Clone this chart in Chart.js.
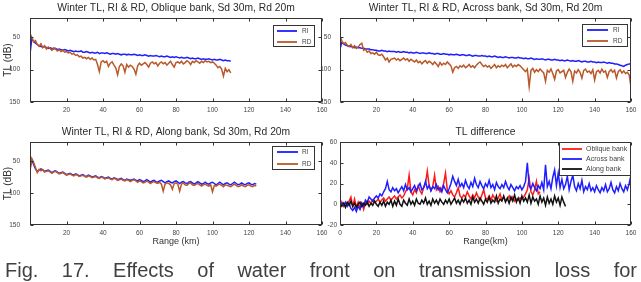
<!DOCTYPE html>
<html>
<head>
<meta charset="utf-8">
<script src="https://cdn.jsdelivr.net/npm/chart.js@4.4.1/dist/chart.umd.min.js"></script>
<style>
  html, body { margin: 0; padding: 0; background: #fff; width: 641px; height: 282px; overflow: hidden; }
  body { position: relative; font-family: 'Liberation Sans', Arial, sans-serif; }
  canvas { position: absolute; filter: blur(0.35px); }
  #caption {
    position: absolute; left: 5px; top: 258px; width: 632px;
    font-size: 20px; line-height: 24px; color: #404040;
    text-align: justify; text-align-last: justify; filter: blur(0.3px);
  }
</style>
</head>
<body>
<canvas id="oblique" width="332" height="120" style="left:0;top:0"></canvas>
<canvas id="across" width="323" height="120" style="left:318px;top:0"></canvas>
<canvas id="along" width="332" height="130" style="left:0;top:120px"></canvas>
<canvas id="diff" width="323" height="130" style="left:318px;top:120px"></canvas>
<div id="caption">Fig. 17. Effects of water front on transmission loss for</div>

<script>
const FONT = "'Liberation Sans', Arial, sans-serif";
const STEP_KM = 1;   // samples are read every 1 km starting at 0 km

// tick labels
const rangeTicks = [20, 40, 60, 80, 100, 120, 140, 160];
const diffRangeTicks = [0, 20, 40, 60, 80, 100, 120, 140, 160];
const tlTicks = [50, 100, 150];
const diffTicks = [-20, 0, 20, 40, 60];

// Oblique bank, TL (dB), 0..110 km
const obliqueRI = [
  76,52,56,59,61,63,64,65,64,66, 67,66,67,68,67,69,68,69,70,69,
  70,71,70,71,72,71,72,72,71,73, 73,72,73,74,73,74,74,73,75,74,
  74,75,74,75,76,75,75,76,75,76, 77,76,76,77,76,77,77,76,77,78,
  77,78,78,77,78,79,78,79,79,78, 79,80,79,80,80,79,80,81,80,81,
  80,81,82,81,82,82,81,82,83,82, 83,83,82,83,84,83,84,84,83,84,
  85,84,85,85,84,85,86,85,86,86,87
];
const obliqueRD = [
  44,50,57,55,61,64,60,66,63,68, 65,67,70,66,68,71,69,72,70,73,
  72,74,73,76,75,78,77,80,79,82, 81,83,81,84,82,85,84,92,103,88,
  86,89,87,95,90,88,93,97,108,95, 91,94,104,92,96,93,95,99,107,94,
  90,93,91,89,92,96,90,88,91,89, 94,90,88,91,89,93,90,87,92,96,
  89,88,90,87,91,89,86,88,92,87, 89,86,88,90,87,89,86,88,87,89,
  88,90,93,97,95,99,110,98,103,100,105
];

// Across bank, TL (dB), 0..160 km
const acrossRI = [
  68,58,60,62,63,64,64,65,66,65, 66,66,67,67,68,68,68,69,69,70,
  70,71,71,70,71,71,72,71,72,72, 72,73,72,73,73,72,73,73,74,73,
  74,74,73,74,75,74,74,75,75,74, 75,75,76,75,75,76,76,75,76,76,
  77,76,77,77,76,77,78,77,77,78, 78,77,78,79,78,78,79,79,78,79,
  79,80,79,80,80,79,80,81,80,81, 81,80,81,82,81,81,82,82,81,82,
  82,83,82,83,83,82,83,84,83,84, 84,83,84,85,84,84,85,85,84,85,
  85,86,85,86,86,85,86,87,86,87, 87,86,87,88,87,87,88,88,87,88,
  88,89,88,89,89,88,89,90,89,90, 90,91,91,92,93,94,95,93,92,91,91
];
const acrossRD = [
  48,55,60,58,62,64,61,66,63,67, 65,61,59,70,68,73,71,75,74,76,
  73,77,78,76,80,85,82,88,84,83, 82,85,83,86,84,82,85,83,87,84,
  86,88,85,89,87,91,88,86,90,87, 89,92,88,91,95,89,93,90,92,88,
  91,94,104,97,95,98,94,96,93,97, 95,92,96,94,97,93,90,88,92,95,
  93,96,94,98,95,92,97,94,96,93, 95,92,97,94,91,96,93,95,92,94,
  97,100,103,99,126,101,98,104,100,103, 99,102,105,118,101,104,99,106,115,102,
  100,105,103,101,112,104,99,103,118,102, 105,100,104,113,101,99,104,102,106,100,
  116,103,101,105,99,104,102,112,103,100, 104,101,113,103,100,105,102,106,104,108,127
];

// Along bank, TL (dB), 0..124 km
const alongRI = [
  61,48,55,62,66,64,62,64,66,65, 64,66,68,66,65,67,69,68,67,69,
  71,70,69,71,72,70,71,73,72,71, 73,74,72,73,75,74,73,75,76,74,
  75,77,76,75,77,78,76,77,79,78, 77,79,80,78,79,80,79,78,80,81,
  79,80,82,81,79,81,83,81,80,82, 83,81,80,82,84,82,81,83,84,82,
  81,83,85,83,82,84,85,83,82,84, 86,84,82,84,86,85,83,85,86,84,
  83,85,87,85,83,85,87,85,84,86, 87,85,83,85,87,86,84,86,87,85,
  84,86,87,85,86
];
const alongRD = [
  66,46,52,60,68,63,65,63,67,66, 65,67,69,67,66,68,70,69,68,70,
  72,71,70,72,73,71,72,74,73,72, 74,75,73,74,76,75,74,76,77,75,
  76,78,77,76,78,79,77,78,80,79, 78,80,81,79,80,82,80,79,81,83,
  81,82,84,83,81,83,85,83,82,84, 85,83,86,97,86,84,85,87,94,85,
  84,86,97,86,84,87,88,85,84,87, 88,86,85,87,89,87,86,88,89,87,
  98,88,89,87,86,88,90,87,88,89, 90,88,86,88,90,89,87,89,90,88,
  87,89,90,88,89
];

// TL difference (dB)
const diffOblique = [
  -5,2,-2,1,0,3,7,-2,5,-3, 2,-4,1,-5,2,0,3,1,4,2,
  3,5,2,4,6,3,5,7,4,6, 8,5,7,9,6,8,12,15,28,12,
  9,14,11,18,13,10,16,20,32,18, 13,17,28,14,17,12,15,20,30,14,
  10,13,9,7,11,16,8,6,9,7, 12,8,5,9,6,11,7,4,9,14,
  6,5,8,4,9,6,3,6,10,4, 7,3,5,8,4,7,3,5,4,6,
  5,7,10,14,25,12,9,14,22,10,12
];
const diffAcross = [
  0,1,-1,2,-2,1,-4,-6,-3,-7, -2,-5,1,-2,4,2,7,5,3,6,
  8,6,10,8,12,15,22,14,12,16, 13,15,11,14,17,13,19,14,16,12,
  15,18,13,17,20,14,16,22,15,18, 13,17,15,19,14,16,12,18,14,11,
  15,20,27,22,18,24,17,20,16,23, 18,15,21,17,25,19,16,22,18,15,
  20,17,23,16,19,14,21,17,15,19, 16,22,17,14,19,16,13,17,15,18,
  14,17,22,40,18,15,20,16,13,18, 15,21,14,38,17,22,15,26,33,18,
  30,16,24,15,19,27,14,22,28,17, 13,20,15,23,12,17,14,20,13,16,
  12,18,14,11,16,13,19,12,15,21, 14,11,17,13,20,15,12,18,14,20,28
];
const diffAlong = [
  0,-2,1,-3,2,-1,3,-2,1,-3, 0,2,-2,1,-1,2,-2,1,-1,3,
  0,-2,2,-1,3,-2,2,0,4,-2, 3,-1,5,0,-2,4,1,-1,5,0,
  3,-1,5,1,0,4,1,6,0,3, -1,5,1,4,0,5,2,0,4,1,
  5,0,3,6,1,4,0,5,2,6, 1,4,0,7,2,5,1,6,3,0,
  5,2,7,1,4,2,8,1,5,3, 8,2,6,1,7,3,9,2,6,1,
  8,3,6,2,9,1,7,3,5,0, 8,2,6,-1,7,1,5,0,8,2,
  6,-1,7,2,-2
];

const BLUE = 'rgb(30,30,255)';
const BROWN = 'rgb(185,88,40)';
const RED = 'rgb(255,25,25)';
const BLACK = '#111';

const toPoints = vals => vals.map((v, i) => ({ x: i * STEP_KM, y: v }));

// MATLAB-like box with inward ticks on all four sides
const innerTicks = {
  id: 'innerTicks',
  afterDatasetsDraw(chart) {
    const { ctx, chartArea: a, scales: { x, y } } = chart;
    const L = Math.round(a.left) + 0.5, R = Math.round(a.right) - 0.5;
    const T = Math.round(a.top) + 0.5, B = Math.round(a.bottom) - 0.5;
    ctx.save();
    ctx.strokeStyle = '#333';
    ctx.lineWidth = 1;
    ctx.beginPath();
    x.ticks.forEach(t => {
      const px = Math.round(x.getPixelForValue(t.value)) + 0.5;
      ctx.moveTo(px, T); ctx.lineTo(px, T + 3);
      ctx.moveTo(px, B); ctx.lineTo(px, B - 3);
    });
    y.ticks.forEach(t => {
      const py = Math.round(y.getPixelForValue(t.value)) + 0.5;
      ctx.moveTo(L, py); ctx.lineTo(L + 3, py);
      ctx.moveTo(R, py); ctx.lineTo(R - 3, py);
    });
    ctx.stroke();
    ctx.strokeRect(L, T, R - L, B - T);
    ctx.restore();
  }
};

// legend box drawn inside the plot, top right
const boxLegend = {
  id: 'boxLegend',
  afterDraw(chart, args, o) {
    const { ctx, chartArea: a } = chart;
    const x = Math.round(a.right - o.right - o.width), y = Math.round(a.top + o.top);
    ctx.save();
    ctx.fillStyle = '#fff';
    ctx.fillRect(x, y, o.width, o.height);
    ctx.strokeStyle = '#333';
    ctx.lineWidth = 1;
    ctx.strokeRect(x + 0.5, y + 0.5, o.width - 1, o.height - 1);
    ctx.font = o.fontSize + 'px ' + FONT;
    ctx.textBaseline = 'middle';
    chart.data.datasets.forEach((ds, i) => {
      const ly = y + o.padTop + i * o.rowH;
      ctx.strokeStyle = ds.borderColor;
      ctx.lineWidth = 1.8;
      ctx.beginPath();
      ctx.moveTo(x + o.lineX, ly);
      ctx.lineTo(x + o.lineX + o.lineLen, ly);
      ctx.stroke();
      ctx.fillStyle = '#444';
      ctx.fillText(ds.label, x + o.lineX + o.lineLen + o.gap, ly);
    });
    ctx.restore();
  }
};

function panel(id, o) {
  return new Chart(document.getElementById(id), {
    type: 'line',
    data: { datasets: o.datasets },
    options: {
      responsive: false,
      animation: false,
      devicePixelRatio: 1,
      layout: { padding: { left: 0, right: 10, top: 0, bottom: 0 } },
      elements: { point: { radius: 0 }, line: { borderWidth: 1.5, tension: 0 } },
      plugins: {
        legend: { display: false },
        tooltip: { enabled: false },
        title: {
          display: true, text: o.title, color: '#2a2a2a', fullSize: false,
          font: { family: FONT, size: 10.3, weight: 'normal', lineHeight: '12px' },
          padding: { top: o.titleTop, bottom: 4 }
        },
        boxLegend: o.legend
      },
      scales: {
        x: {
          type: 'linear', min: 0, max: 160,
          grid: { display: false, drawTicks: false },
          border: { display: false },
          ticks: { color: '#444', font: { family: FONT, size: 6.5 }, padding: 4, maxRotation: 0, autoSkip: false },
          afterBuildTicks: s => { s.ticks = o.xTicks.map(v => ({ value: v })); },
          afterFit: s => { s.height = o.xHeight; },
          title: {
            display: !!o.xTitle, text: o.xTitle || '', color: '#333',
            font: { family: FONT, size: 9, lineHeight: '11px' },
            padding: { top: 0, bottom: 3 }
          }
        },
        y: {
          type: 'linear', min: o.yMin, max: o.yMax, reverse: o.reverse,
          grid: { display: false, drawTicks: false },
          border: { display: false },
          ticks: { color: '#444', font: { family: FONT, size: 6.5 }, padding: o.yPad, autoSkip: false },
          afterBuildTicks: s => { s.ticks = o.yTicks.map(v => ({ value: v })); },
          afterFit: s => { s.width = o.yWidth; },
          title: {
            display: !!o.yTitle, text: o.yTitle || '', color: '#333',
            font: { family: FONT, size: 10, lineHeight: '11px' },
            padding: { top: 3, bottom: 0 }
          }
        }
      }
    },
    plugins: [innerTicks, boxLegend]
  });
}

const tlSeries = (ri, rd) => [
  { label: 'RI', data: toPoints(ri), borderColor: BLUE, order: 1 },
  { label: 'RD', data: toPoints(rd), borderColor: BROWN, order: 0 }
];

panel('oblique', {
  title: 'Winter TL, RI & RD, Oblique bank, Sd 30m, Rd 20m', titleTop: 2,
  datasets: tlSeries(obliqueRI, obliqueRD),
  xTicks: rangeTicks, xHeight: 18,
  yMin: 20, yMax: 150, reverse: true, yTicks: tlTicks, yWidth: 30, yPad: 10, yTitle: 'TL (dB)',
  legend: { right: 7, top: 7, width: 42, height: 22, padTop: 6, rowH: 11, lineX: 4, lineLen: 20, gap: 5, fontSize: 6.5 }
});

panel('across', {
  title: 'Winter TL, RI & RD, Across bank, Sd 30m, Rd 20m', titleTop: 2,
  datasets: tlSeries(acrossRI, acrossRD),
  xTicks: rangeTicks, xHeight: 18,
  yMin: 20, yMax: 150, reverse: true, yTicks: tlTicks, yWidth: 22, yPad: 9,
  legend: { right: 3, top: 6, width: 46, height: 23, padTop: 6, rowH: 11, lineX: 5, lineLen: 21, gap: 5, fontSize: 6.5 }
});

panel('along', {
  title: 'Winter TL, RI & RD, Along bank, Sd 30m, Rd 20m', titleTop: 6,
  datasets: tlSeries(alongRI, alongRD),
  xTicks: rangeTicks, xHeight: 25, xTitle: 'Range (km)',
  yMin: 20, yMax: 150, reverse: true, yTicks: tlTicks, yWidth: 30, yPad: 10, yTitle: 'TL (dB)',
  legend: { right: 7, top: 4, width: 43, height: 24, padTop: 6, rowH: 12, lineX: 5, lineLen: 21, gap: 4, fontSize: 6.5 }
});

panel('diff', {
  title: 'TL difference', titleTop: 6,
  datasets: [
    { label: 'Oblique bank', data: toPoints(diffOblique), borderColor: RED, order: 2 },
    { label: 'Across bank', data: toPoints(diffAcross), borderColor: BLUE, order: 1 },
    { label: 'Along bank', data: toPoints(diffAlong), borderColor: BLACK, order: 0 }
  ],
  xTicks: diffRangeTicks, xHeight: 25, xTitle: 'Range(km)',
  yMin: -20, yMax: 60, reverse: false, yTicks: diffTicks, yWidth: 22, yPad: 3,
  legend: { right: 0, top: 0, width: 72, height: 34, padTop: 7, rowH: 10, lineX: 3, lineLen: 20, gap: 4, fontSize: 7 }
});
</script>
</body>
</html>
